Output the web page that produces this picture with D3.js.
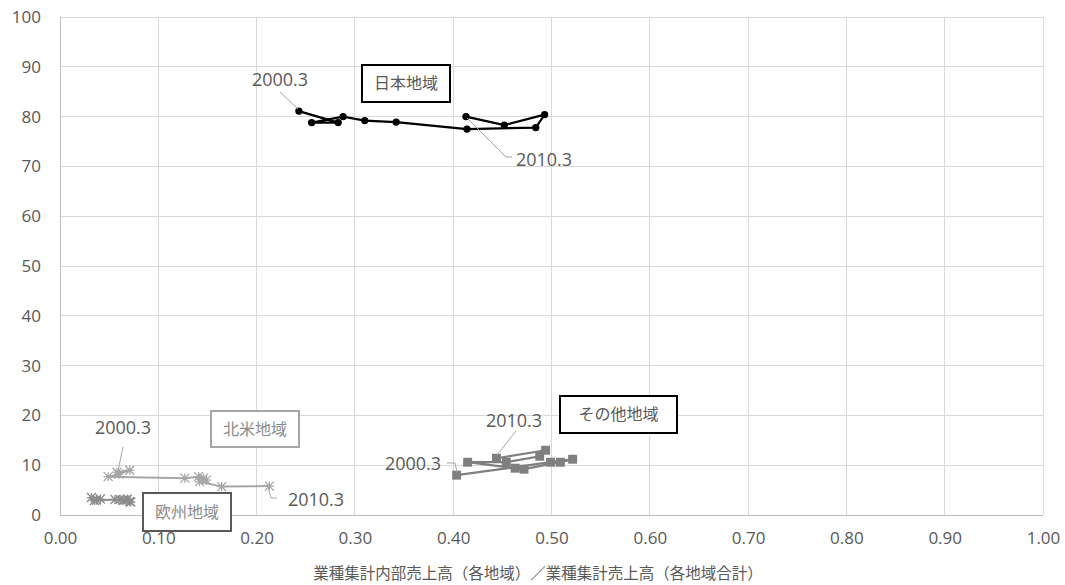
<!DOCTYPE html>
<html><head><meta charset="utf-8">
<script src="https://cdn.jsdelivr.net/npm/d3@7"></script>
<style>body{margin:0;background:#fff}svg{display:block}</style>
</head><body>
<svg id="c" width="1065" height="585"></svg>
<script>
const xTicks = [0,0.1,0.2,0.3,0.4,0.5,0.6,0.7,0.8,0.9,1.0];
const yTicks = [0,10,20,30,40,50,60,70,80,90,100];
const xTitle = "業種集計内部売上高（各地域）／業種集計売上高（各地域合計）";
// 2000.3 → 2010.3
const japanX = [0.243,0.283,0.256,0.288,0.310,0.342,0.414,0.484,0.493,0.452,0.413];
const japanY = [81.1,78.8,78.8,80.0,79.2,78.9,77.5,77.8,80.4,78.3,80.0];
const naX = [0.058,0.071,0.060,0.049,0.127,0.141,0.149,0.146,0.142,0.1645,0.213];
const naY = [8.6,9.0,8.2,7.7,7.4,7.7,7.0,7.4,6.7,5.7,5.8];
const euX = [0.032,0.037,0.041,0.035,0.056,0.061,0.066,0.0685,0.071,0.064,0.072];
const euY = [3.5,3.0,3.2,2.9,3.1,3.1,3.0,3.2,2.7,2.9,2.6];
const otX = [0.4035,0.499,0.5215,0.509,0.472,0.463,0.4147,0.454,0.488,0.494,0.444];
const otY = [8.0,10.6,11.2,10.6,9.2,9.4,10.6,10.6,11.8,13.0,11.4];

const svg = d3.select("#c");
const W=1065,H=585;
const m={l:60,r:22,t:17,b:70};
const x=d3.scaleLinear().domain([0,1]).range([m.l,W-m.r]);
const y=d3.scaleLinear().domain([0,100]).range([H-m.b,m.t]);
const font="'Noto Sans CJK JP','Open Sans',sans-serif";
const tc="#595959";

// grid
svg.append("g").selectAll("line").data(yTicks).join("line")
 .attr("x1",x(0)).attr("x2",x(1)).attr("y1",d=>y(d)).attr("y2",d=>y(d))
 .attr("stroke","#d9d9d9").attr("stroke-width",1).attr("shape-rendering","crispEdges");
svg.append("g").selectAll("line").data(xTicks).join("line")
 .attr("y1",y(0)).attr("y2",y(100)).attr("x1",d=>x(d)).attr("x2",d=>x(d))
 .attr("stroke","#d9d9d9").attr("stroke-width",1).attr("shape-rendering","crispEdges");
// axes lines
svg.append("line").attr("x1",x(0)).attr("x2",x(1)).attr("y1",y(0)).attr("y2",y(0)).attr("stroke","#bfbfbf").attr("shape-rendering","crispEdges");
svg.append("line").attr("x1",x(0)).attr("x2",x(0)).attr("y1",y(0)).attr("y2",y(100)).attr("stroke","#bfbfbf").attr("shape-rendering","crispEdges");

// tick labels via axes
const xa=svg.append("g").attr("transform",`translate(0,${y(0)})`)
 .call(d3.axisBottom(x).tickValues(xTicks).tickFormat(d3.format(".2f")).tickSize(0).tickPadding(17));
const ya=svg.append("g").attr("transform",`translate(${x(0)},0)`)
 .call(d3.axisLeft(y).tickValues(yTicks).tickSize(0).tickPadding(19));
[xa,ya].forEach(a=>{a.attr("font-size",17).attr("font-family","'Open Sans',sans-serif");a.select(".domain").remove();a.selectAll("text").attr("fill",tc).style("font-family","'Open Sans',sans-serif").style("font-size","17px");});

svg.append("text").attr("x",538).attr("y",579).attr("text-anchor","middle")
 .attr("fill",tc).style("font-family",font).style("font-size","15.5px").text(xTitle);

function series(xs,ys,color,sym,size,lw){
  const pts=xs.map((v,i)=>[x(v),y(ys[i])]);
  svg.append("path").attr("d",d3.line()(pts)).attr("fill","none").attr("stroke",color).attr("stroke-width",lw);
  const g=svg.append("g");
  if(sym==="star"){
    pts.forEach(p=>{
      const s=4.5;
      g.append("path").attr("d",`M${p[0]-s},${p[1]-s}L${p[0]+s},${p[1]+s}M${p[0]-s},${p[1]+s}L${p[0]+s},${p[1]-s}M${p[0]},${p[1]-s}L${p[0]},${p[1]+s}M${p[0]-s},${p[1]}L${p[0]+s},${p[1]}`)
       .attr("stroke",color).attr("stroke-width",1.3);
    });
  } else {
    g.selectAll("path").data(pts).join("path")
     .attr("transform",d=>`translate(${d[0]},${d[1]})`)
     .attr("d",d3.symbol().type(sym).size(size)).attr("fill",color);
  }
  return pts;
}
const jp=series(japanX,japanY,"#000",d3.symbolCircle,42,2.2);
const na=series(naX,naY,"#a6a6a6","star",0,2);
const eu=series(euX,euY,"#8c8c8c","star",0,2);
const ot=series(otX,otY,"#7f7f7f",d3.symbolSquare,80,2.2);

function label(t,tx,ty,anchor,path){
  svg.append("text").attr("x",tx).attr("y",ty).attr("text-anchor",anchor)
   .attr("fill",tc).style("font-family","'Open Sans',sans-serif").style("font-size","18px").text(t);
  svg.append("path").attr("d",d3.line()(path)).attr("fill","none").attr("stroke","#a6a6a6").attr("stroke-width",1);
}
label("2000.3",280,86,"middle",[[280,92],[298,109]]);
label("2010.3",544,166,"middle",[[467,118],[506,157],[512,157]]);
label("2000.3",123,434,"middle",[[123,447],[118,471]]);
label("2010.3",316,506,"middle",[[268,487],[271,498],[277,498]]);
label("2010.3",514,427,"middle",[[516,431],[497,455]]);
label("2000.3",413,470,"middle",[[447,463],[455,463],[457,472]]);

function box(t,x0,y0,x1,y1,bc,tcol,fs){
  svg.append("rect").attr("x",x0).attr("y",y0).attr("width",x1-x0).attr("height",y1-y0)
   .attr("fill","#fff").attr("stroke",bc).attr("stroke-width",2);
  svg.append("text").attr("x",(x0+x1)/2).attr("y",(y0+y1)/2+5.5).attr("text-anchor","middle")
   .attr("fill",tcol).style("font-family",font).style("font-size",fs+"px").text(t);
}
box("日本地域",362,65,450,102,"#000",tc,16);
box("北米地域",211,411,299,447,"#a6a6a6","#8c8c8c",16);
box("その他地域",560,396,677,433,"#000",tc,16);
box("欧州地域",143,493,231,531,"#595959","#8c8c8c",16);
</script>
</body></html>
